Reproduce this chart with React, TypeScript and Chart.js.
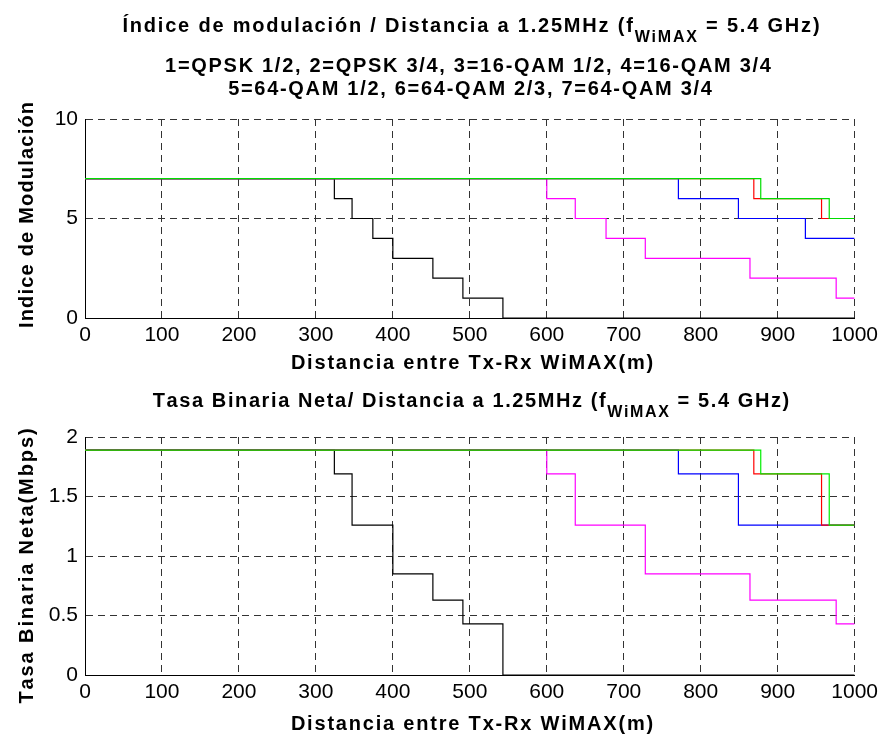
import React, { useEffect, useRef } from 'react';
import { Chart, registerables } from 'chart.js';

Chart.register(...registerables);

// ---------------- data ----------------
const xTicks = [0, 100, 200, 300, 400, 500, 600, 700, 800, 900, 1000];
const modTicks = [0, 5, 10];
const rateTicks = [0, 0.5, 1, 1.5, 2];

const distBlack = [0, 324, 347, 374, 400, 452, 491, 543, 1000];
const modBlack = [7, 6, 5, 4, 3, 2, 1, 0, 0];
const rateBlack = [1.89, 1.69, 1.26, 1.26, 0.85, 0.63, 0.43, 0, 0];

const distMagenta = [0, 600, 637, 677, 728, 864, 976, 1000];
const modMagenta = [7, 6, 5, 4, 3, 2, 1, 1];
const rateMagenta = [1.89, 1.69, 1.26, 1.26, 0.85, 0.63, 0.43, 0.43];

const distBlue = [0, 771, 849, 936, 1000];
const modBlue = [7, 6, 5, 4, 4];
const rateBlue = [1.89, 1.69, 1.26, 1.26, 1.26];

const distRed = [0, 869, 957, 1000];
const modRed = [7, 6, 5, 5];
const rateRed = [1.89, 1.69, 1.26, 1.26];

const distGreen = [0, 878, 967, 1000];
const modGreen = [7, 6, 5, 5];
const rateGreen = [1.89, 1.69, 1.26, 1.26];

const FONT = '"Liberation Sans", Arial, sans-serif';
const W = 883;
const H1 = 385;
const H2 = 735 - H1;

type Seg = { t: string; size: number; dy: number };
type TextItem =
  | { kind: 'h'; segs: Seg[]; cx: number; y: number; sp: number }
  | { kind: 'v'; text: string; size: number; x: number; cy: number; sp: number };

function segWidth(ctx: CanvasRenderingContext2D, s: Seg, sp: number) {
  ctx.font = `bold ${s.size}px ${FONT}`;
  let w = 0;
  for (const ch of s.t) w += ctx.measureText(ch).width + sp;
  return w;
}

function drawSeg(ctx: CanvasRenderingContext2D, s: Seg, x: number, y: number, sp: number) {
  ctx.font = `bold ${s.size}px ${FONT}`;
  let cx = x;
  for (const ch of s.t) {
    ctx.fillText(ch, cx, y + s.dy);
    cx += ctx.measureText(ch).width + sp;
  }
  return cx;
}

function textPlugin(items: TextItem[]) {
  return {
    id: 'texts',
    afterDraw(chart: any) {
      const ctx: CanvasRenderingContext2D = chart.ctx;
      ctx.save();
      ctx.fillStyle = '#000';
      ctx.textBaseline = 'alphabetic';
      ctx.textAlign = 'left';
      for (const it of items) {
        if (it.kind === 'h') {
          let total = 0;
          it.segs.forEach((s) => (total += segWidth(ctx, s, it.sp)));
          total -= it.sp;
          let x = it.cx - total / 2;
          for (const s of it.segs) x = drawSeg(ctx, s, x, it.y, it.sp);
        } else {
          ctx.save();
          ctx.translate(it.x, it.cy);
          ctx.rotate(-Math.PI / 2);
          const seg = { t: it.text, size: it.size, dy: 0 };
          const w = segWidth(ctx, seg, it.sp) - it.sp;
          drawSeg(ctx, seg, -w / 2, 0, it.sp);
          ctx.restore();
        }
      }
      ctx.restore();
    },
  };
}

function mk(dist: number[], vals: number[]) {
  return dist.map((d, i) => ({ x: d, y: vals[i] }));
}

function makeConfig(
  series: { d: number[]; v: number[]; c: string; order: number }[],
  yTicks: number[],
  yMax: number,
  pad: { top: number; right: number },
  xH: number,
  items: TextItem[]
): any {
  return {
    type: 'line',
    data: {
      datasets: series.map((s) => ({
        data: mk(s.d, s.v),
        borderColor: s.c,
        backgroundColor: s.c,
        borderWidth: 1.2,
        pointRadius: 0,
        stepped: true,
        fill: false,
        order: s.order,
      })),
    },
    options: {
      animation: false,
      responsive: false,
      maintainAspectRatio: false,
      events: [],
      layout: { padding: { top: pad.top, right: pad.right, left: 0, bottom: 0 } },
      plugins: { legend: { display: false }, title: { display: false }, tooltip: { enabled: false } },
      scales: {
        x: {
          type: 'linear',
          min: 0,
          max: 1000,
          afterBuildTicks: (sc: any) => {
            sc.ticks = xTicks.map((v) => ({ value: v }));
          },
          afterFit: (sc: any) => {
            sc.height = xH;
          },
          ticks: {
            color: '#000',
            font: { family: FONT, size: 21 },
            padding: 5,
            maxRotation: 0,
            autoSkip: false,
            callback: (v: any) => String(v),
          },
          grid: { color: '#333', lineWidth: 1, drawTicks: false },
          border: { display: true, color: '#000', width: 1, dash: [7, 5] },
        },
        y: {
          type: 'linear',
          min: 0,
          max: yMax,
          afterBuildTicks: (sc: any) => {
            sc.ticks = yTicks.map((v) => ({ value: v }));
          },
          afterFit: (sc: any) => {
            sc.width = 85;
          },
          ticks: {
            color: '#000',
            font: { family: FONT, size: 21 },
            padding: 7,
            autoSkip: false,
            callback: (v: any) => String(v),
          },
          grid: { color: '#333', lineWidth: 1, drawTicks: false },
          border: { display: true, color: '#000', width: 1, dash: [7, 5] },
        },
      },
    },
    plugins: [textPlugin(items)],
  };
}

export default function App() {
  const c1 = useRef<HTMLCanvasElement>(null);
  const c2 = useRef<HTMLCanvasElement>(null);

  useEffect(() => {
    const sub = 'WiMAX';
    const o2 = H1; // page offset of second canvas
    const items1: TextItem[] = [
      {
        kind: 'h',
        cx: 471,
        y: 31.5,
        sp: 1.8,
        segs: [
          { t: 'Índice de modulación / Distancia a 1.25MHz (f', size: 20, dy: 0 },
          { t: sub, size: 16, dy: 10 },
          { t: ' = 5.4 GHz)', size: 20, dy: 0 },
        ],
      },
      { kind: 'h', cx: 468, y: 72, sp: 1.7, segs: [{ t: '1=QPSK 1/2, 2=QPSK 3/4, 3=16-QAM 1/2, 4=16-QAM 3/4', size: 20, dy: 0 }] },
      { kind: 'h', cx: 470, y: 95, sp: 1.7, segs: [{ t: '5=64-QAM 1/2, 6=64-QAM 2/3, 7=64-QAM 3/4', size: 20, dy: 0 }] },
      { kind: 'h', cx: 472, y: 369, sp: 1.8, segs: [{ t: 'Distancia entre Tx-Rx WiMAX(m)', size: 20, dy: 0 }] },
      { kind: 'v', text: 'Indice de Modulación', size: 20, x: 33, cy: 215, sp: 1.2 },
    ];
    const items2: TextItem[] = [
      {
        kind: 'h',
        cx: 471,
        y: 407 - o2,
        sp: 1.6,
        segs: [
          { t: 'Tasa Binaria Neta/ Distancia a 1.25MHz (f', size: 20, dy: 0 },
          { t: sub, size: 16, dy: 10 },
          { t: ' = 5.4 GHz)', size: 20, dy: 0 },
        ],
      },
      { kind: 'h', cx: 472, y: 730 - o2, sp: 1.8, segs: [{ t: 'Distancia entre Tx-Rx WiMAX(m)', size: 20, dy: 0 }] },
      { kind: 'v', text: 'Tasa Binaria Neta(Mbps)', size: 20, x: 33, cy: 566 - o2, sp: 1.9 },
    ];

    const ch1 = new Chart(
      c1.current!,
      makeConfig(
        [
          { d: distBlack, v: modBlack, c: '#000000', order: 5 },
          { d: distMagenta, v: modMagenta, c: '#ff00ff', order: 4 },
          { d: distBlue, v: modBlue, c: '#0000ff', order: 3 },
          { d: distRed, v: modRed, c: '#ff0000', order: 2 },
          { d: distGreen, v: modGreen, c: '#00dd00', order: 1 },
        ],
        modTicks,
        10,
        { top: 119, right: 28 },
        H1 - 318,
        items1
      )
    );
    const ch2 = new Chart(
      c2.current!,
      makeConfig(
        [
          { d: distBlack, v: rateBlack, c: '#000000', order: 5 },
          { d: distMagenta, v: rateMagenta, c: '#ff00ff', order: 4 },
          { d: distBlue, v: rateBlue, c: '#0000ff', order: 3 },
          { d: distRed, v: rateRed, c: '#ff0000', order: 2 },
          { d: distGreen, v: rateGreen, c: '#00ee00', order: 1 },
        ],
        rateTicks,
        2,
        { top: 437 - o2, right: 28 },
        H2 - (675 - o2),
        items2
      )
    );
    return () => {
      ch1.destroy();
      ch2.destroy();
    };
  }, []);

  return (
    <div style={{ position: 'absolute', left: 0, top: 0, width: W, height: 735, background: '#fff' }}>
      <canvas ref={c1} width={W} height={H1} style={{ position: 'absolute', left: 0, top: 0, width: W, height: H1 }} />
      <canvas ref={c2} width={W} height={H2} style={{ position: 'absolute', left: 0, top: H1, width: W, height: H2 }} />
    </div>
  );
}
